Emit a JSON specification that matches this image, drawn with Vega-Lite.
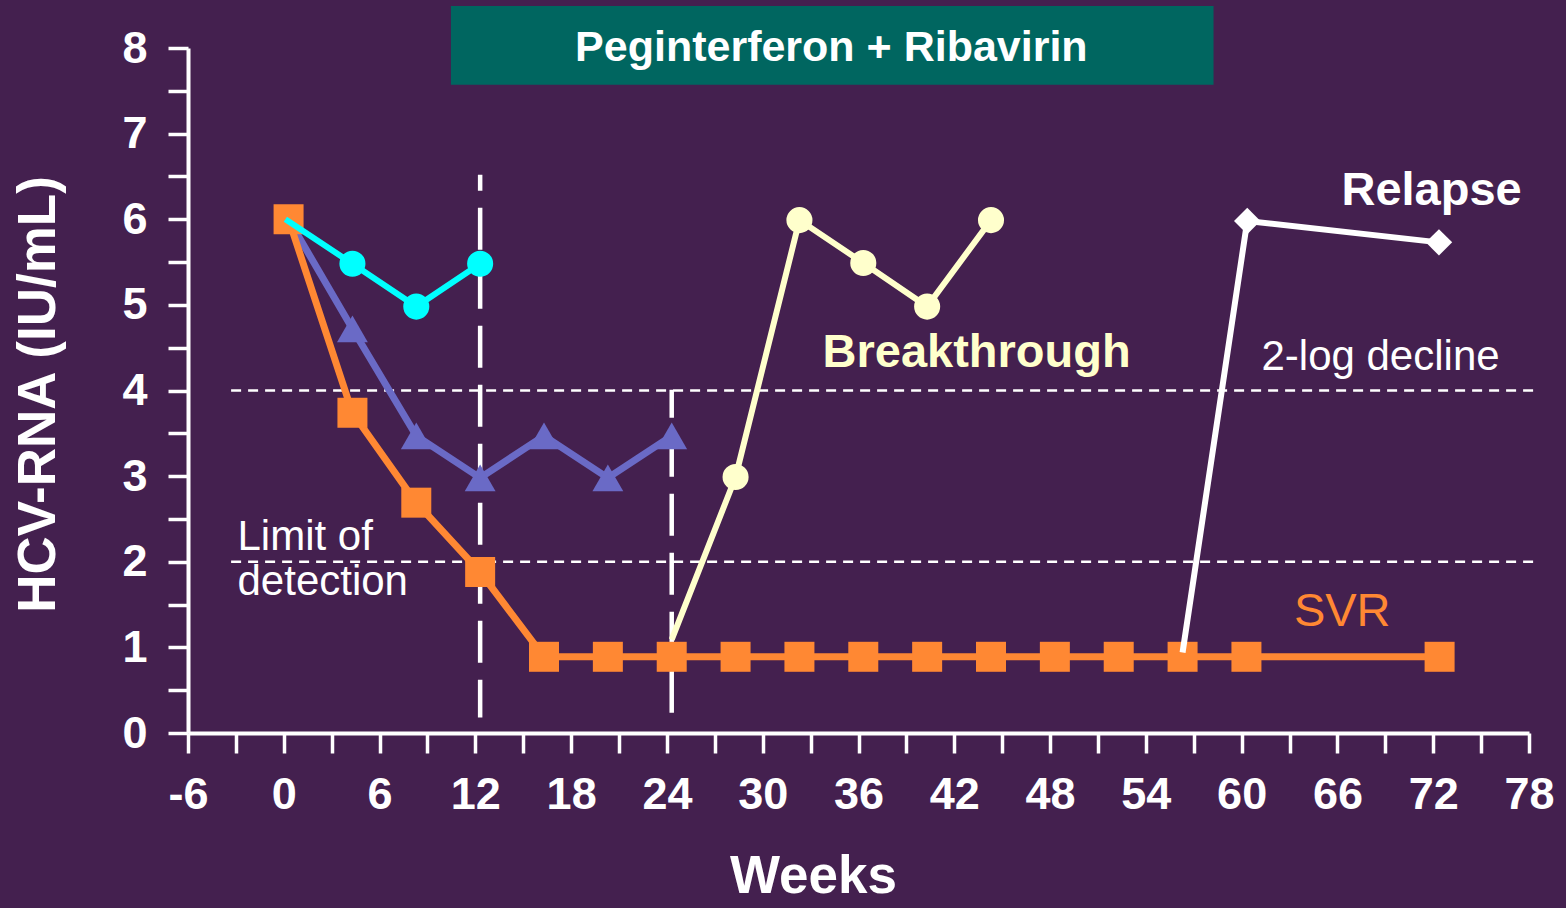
{
  "$schema": "https://vega.github.io/schema/vega-lite/v6.json",
  "width": 1341,
  "height": 685,
  "autosize": {"type": "none"},
  "padding": {"left": 188, "top": 48, "right": 37, "bottom": 175},
  "background": "#44204F",
  "config": {
    "view": {"stroke": null},
    "font": "Liberation Sans",
    "axis": {
      "grid": false,
      "domainColor": "#FFFFFF",
      "domainWidth": 4,
      "tickColor": "#FFFFFF",
      "tickWidth": 3.5,
      "tickSize": 20,
      "labelColor": "#FFFFFF",
      "labelFont": "Liberation Sans",
      "labelFontWeight": "bold",
      "labelFontSize": 45,
      "labelFlush": false,
      "labelOverlap": false,
      "labelBound": false,
      "titleColor": "#FFFFFF",
      "titleFont": "Liberation Sans",
      "titleFontWeight": "bold",
      "titleFontSize": 53
    }
  },
  "datasets": {
    "series": [
      {"series": "SVR", "week": 0.3, "log": 6.0, "marker": true},
      {"series": "SVR", "week": 4.3, "log": 3.74, "marker": true},
      {"series": "SVR", "week": 8.3, "log": 2.69, "marker": true},
      {"series": "SVR", "week": 12.3, "log": 1.88, "marker": true},
      {"series": "SVR", "week": 16.3, "log": 0.89, "marker": true},
      {"series": "SVR", "week": 20.3, "log": 0.89, "marker": true},
      {"series": "SVR", "week": 24.3, "log": 0.89, "marker": true},
      {"series": "SVR", "week": 28.3, "log": 0.89, "marker": true},
      {"series": "SVR", "week": 32.3, "log": 0.89, "marker": true},
      {"series": "SVR", "week": 36.3, "log": 0.89, "marker": true},
      {"series": "SVR", "week": 40.3, "log": 0.89, "marker": true},
      {"series": "SVR", "week": 44.3, "log": 0.89, "marker": true},
      {"series": "SVR", "week": 48.3, "log": 0.89, "marker": true},
      {"series": "SVR", "week": 52.3, "log": 0.89, "marker": true},
      {"series": "SVR", "week": 56.3, "log": 0.89, "marker": true},
      {"series": "SVR", "week": 60.3, "log": 0.89, "marker": true},
      {"series": "SVR", "week": 72.4, "log": 0.89, "marker": true},
      {"series": "Partial", "week": 0.3, "log": 6.0, "marker": false},
      {"series": "Partial", "week": 4.3, "log": 4.72, "marker": true},
      {"series": "Partial", "week": 8.3, "log": 3.47, "marker": true},
      {"series": "Partial", "week": 12.3, "log": 2.98, "marker": true},
      {"series": "Partial", "week": 16.3, "log": 3.47, "marker": true},
      {"series": "Partial", "week": 20.3, "log": 2.98, "marker": true},
      {"series": "Partial", "week": 24.3, "log": 3.47, "marker": true},
      {"series": "Null", "week": 0.1, "log": 6.0, "marker": false},
      {"series": "Null", "week": 4.3, "log": 5.48, "marker": true},
      {"series": "Null", "week": 8.3, "log": 4.98, "marker": true},
      {"series": "Null", "week": 12.3, "log": 5.48, "marker": true},
      {"series": "Breakthrough", "week": 24.3, "log": 1.09, "marker": false},
      {"series": "Breakthrough", "week": 28.3, "log": 2.99, "marker": true},
      {"series": "Breakthrough", "week": 32.3, "log": 5.99, "marker": true},
      {"series": "Breakthrough", "week": 36.3, "log": 5.49, "marker": true},
      {"series": "Breakthrough", "week": 40.3, "log": 4.98, "marker": true},
      {"series": "Breakthrough", "week": 44.3, "log": 5.99, "marker": true},
      {"series": "Relapse", "week": 56.3, "log": 0.94, "marker": false},
      {"series": "Relapse", "week": 60.35, "log": 5.98, "marker": true},
      {"series": "Relapse", "week": 72.36, "log": 5.73, "marker": true}
    ]
  },
  "layer": [
    {
      "data": {"values": [{"x1": 10.47, "x2": 58.24, "y1": 8.49, "y2": 7.57}]},
      "mark": {"type": "rect", "color": "#006660"},
      "encoding": {
        "x": {"field": "x1", "type": "quantitative", "scale": {"domain": [-6, 78], "nice": false, "zero": false},
          "axis": {
            "values": [-6, -3, 0, 3, 6, 9, 12, 15, 18, 21, 24, 27, 30, 33, 36, 39, 42, 45, 48, 51, 54, 57, 60, 63, 66, 69, 72, 75, 78],
            "labelExpr": "datum.value % 6 === 0 ? '' + datum.value : ''",
            "labelPadding": 19,
            "title": "Weeks",
            "titleX": 625,
            "titleY": 159,
            "titleAlign": "center",
            "titleBaseline": "alphabetic"
          }},
        "x2": {"field": "x2"},
        "y": {"field": "y1", "type": "quantitative", "scale": {"domain": [0, 8], "nice": false, "zero": false},
          "axis": {
            "values": [0, 0.5, 1, 1.5, 2, 2.5, 3, 3.5, 4, 4.5, 5, 5.5, 6, 6.5, 7, 7.5, 8],
            "labelExpr": "datum.value % 1 === 0 ? '' + datum.value : ''",
            "labelPadding": 21,
            "title": "HCV-RNA (IU/mL)",
            "titleX": -134,
            "titleY": 346,
            "titleAngle": -90,
            "titleAlign": "center",
            "titleBaseline": "alphabetic"
          }},
        "y2": {"field": "y2"}
      }
    },
    {
      "data": {"values": [{"label": "Peginterferon + Ribavirin", "week": 34.3, "log": 7.85}]},
      "mark": {"type": "text", "color": "#FFFFFF", "fontSize": 43, "fontWeight": "bold", "align": "center", "baseline": "alphabetic"},
      "encoding": {
        "x": {"field": "week", "type": "quantitative"},
        "y": {"field": "log", "type": "quantitative"},
        "text": {"field": "label"}
      }
    },
    {
      "data": {"values": [{"log": 4, "from": -3.3, "to": 78.4}, {"log": 2, "from": -3.3, "to": 78.4}]},
      "mark": {"type": "rule", "color": "#FFFFFF", "strokeWidth": 2.5, "strokeDash": [10, 7]},
      "encoding": {
        "y": {"field": "log", "type": "quantitative"},
        "x": {"field": "from", "type": "quantitative"},
        "x2": {"field": "to"}
      }
    },
    {
      "data": {"values": [{"week": 12.3, "top": 6.52, "bottom": 0.18}]},
      "mark": {"type": "rule", "color": "#FFFFFF", "strokeWidth": 4.5, "strokeDash": [42, 17], "strokeDashOffset": 26},
      "encoding": {
        "x": {"field": "week", "type": "quantitative"},
        "y": {"field": "top", "type": "quantitative"},
        "y2": {"field": "bottom"}
      }
    },
    {
      "data": {"values": [{"week": 24.3, "top": 4.01, "bottom": 0.21}]},
      "mark": {"type": "rule", "color": "#FFFFFF", "strokeWidth": 4.5, "strokeDash": [42, 17], "strokeDashOffset": 14},
      "encoding": {
        "x": {"field": "week", "type": "quantitative"},
        "y": {"field": "top", "type": "quantitative"},
        "y2": {"field": "bottom"}
      }
    },
    {
      "data": {"name": "series"},
      "transform": [{"filter": "datum.series === 'Partial'"}],
      "mark": {"type": "line", "color": "#6A6AC6", "strokeWidth": 7},
      "encoding": {"x": {"field": "week", "type": "quantitative"}, "y": {"field": "log", "type": "quantitative"}}
    },
    {
      "data": {"name": "series"},
      "transform": [{"filter": "datum.series === 'Partial' && datum.marker"}],
      "mark": {"type": "point", "shape": "triangle-up", "filled": true, "opacity": 1, "color": "#6A6AC6", "size": 950},
      "encoding": {"x": {"field": "week", "type": "quantitative"}, "y": {"field": "log", "type": "quantitative"}}
    },
    {
      "data": {"name": "series"},
      "transform": [{"filter": "datum.series === 'SVR'"}],
      "mark": {"type": "line", "color": "#FF8833", "strokeWidth": 7},
      "encoding": {"x": {"field": "week", "type": "quantitative"}, "y": {"field": "log", "type": "quantitative"}}
    },
    {
      "data": {"name": "series"},
      "transform": [{"filter": "datum.series === 'SVR' && datum.marker"}],
      "mark": {"type": "point", "shape": "square", "filled": true, "opacity": 1, "color": "#FF8833", "size": 900},
      "encoding": {"x": {"field": "week", "type": "quantitative"}, "y": {"field": "log", "type": "quantitative"}}
    },
    {
      "data": {"name": "series"},
      "transform": [{"filter": "datum.series === 'Null'"}],
      "mark": {"type": "line", "color": "#00FFFF", "strokeWidth": 6},
      "encoding": {"x": {"field": "week", "type": "quantitative"}, "y": {"field": "log", "type": "quantitative"}}
    },
    {
      "data": {"name": "series"},
      "transform": [{"filter": "datum.series === 'Null' && datum.marker"}],
      "mark": {"type": "point", "shape": "circle", "filled": true, "opacity": 1, "color": "#00FFFF", "size": 680},
      "encoding": {"x": {"field": "week", "type": "quantitative"}, "y": {"field": "log", "type": "quantitative"}}
    },
    {
      "data": {"name": "series"},
      "transform": [{"filter": "datum.series === 'Breakthrough'"}],
      "mark": {"type": "line", "color": "#FFFFCC", "strokeWidth": 6},
      "encoding": {"x": {"field": "week", "type": "quantitative"}, "y": {"field": "log", "type": "quantitative"}}
    },
    {
      "data": {"name": "series"},
      "transform": [{"filter": "datum.series === 'Breakthrough' && datum.marker"}],
      "mark": {"type": "point", "shape": "circle", "filled": true, "opacity": 1, "color": "#FFFFCC", "size": 680},
      "encoding": {"x": {"field": "week", "type": "quantitative"}, "y": {"field": "log", "type": "quantitative"}}
    },
    {
      "data": {"name": "series"},
      "transform": [{"filter": "datum.series === 'Relapse'"}],
      "mark": {"type": "line", "color": "#FFFFFF", "strokeWidth": 6},
      "encoding": {"x": {"field": "week", "type": "quantitative"}, "y": {"field": "log", "type": "quantitative"}}
    },
    {
      "data": {"name": "series"},
      "transform": [{"filter": "datum.series === 'Relapse' && datum.marker"}],
      "mark": {"type": "point", "shape": "diamond", "filled": true, "opacity": 1, "color": "#FFFFFF", "size": 700},
      "encoding": {"x": {"field": "week", "type": "quantitative"}, "y": {"field": "log", "type": "quantitative"}}
    },
    {
      "data": {"values": [{"label": "Relapse", "week": 71.9, "log": 6.17}]},
      "mark": {"type": "text", "color": "#FFFFFF", "fontSize": 47, "fontWeight": "bold", "align": "center", "baseline": "alphabetic"},
      "encoding": {"x": {"field": "week", "type": "quantitative"}, "y": {"field": "log", "type": "quantitative"}, "text": {"field": "label"}}
    },
    {
      "data": {"values": [{"label": "Breakthrough", "week": 43.4, "log": 4.28}]},
      "mark": {"type": "text", "color": "#FFFFCC", "fontSize": 47, "fontWeight": "bold", "align": "center", "baseline": "alphabetic"},
      "encoding": {"x": {"field": "week", "type": "quantitative"}, "y": {"field": "log", "type": "quantitative"}, "text": {"field": "label"}}
    },
    {
      "data": {"values": [{"label": "2-log decline", "week": 68.7, "log": 4.24}]},
      "mark": {"type": "text", "color": "#FFFFFF", "fontSize": 42, "align": "center", "baseline": "alphabetic"},
      "encoding": {"x": {"field": "week", "type": "quantitative"}, "y": {"field": "log", "type": "quantitative"}, "text": {"field": "label"}}
    },
    {
      "data": {"values": [{"label": "Limit of", "week": -2.9, "log": 2.14}, {"label": "detection", "week": -2.9, "log": 1.61}]},
      "mark": {"type": "text", "color": "#FFFFFF", "fontSize": 42, "align": "left", "baseline": "alphabetic"},
      "encoding": {"x": {"field": "week", "type": "quantitative"}, "y": {"field": "log", "type": "quantitative"}, "text": {"field": "label"}}
    },
    {
      "data": {"values": [{"label": "SVR", "week": 66.3, "log": 1.25}]},
      "mark": {"type": "text", "color": "#FF8833", "fontSize": 47, "align": "center", "baseline": "alphabetic"},
      "encoding": {"x": {"field": "week", "type": "quantitative"}, "y": {"field": "log", "type": "quantitative"}, "text": {"field": "label"}}
    }
  ]
}
